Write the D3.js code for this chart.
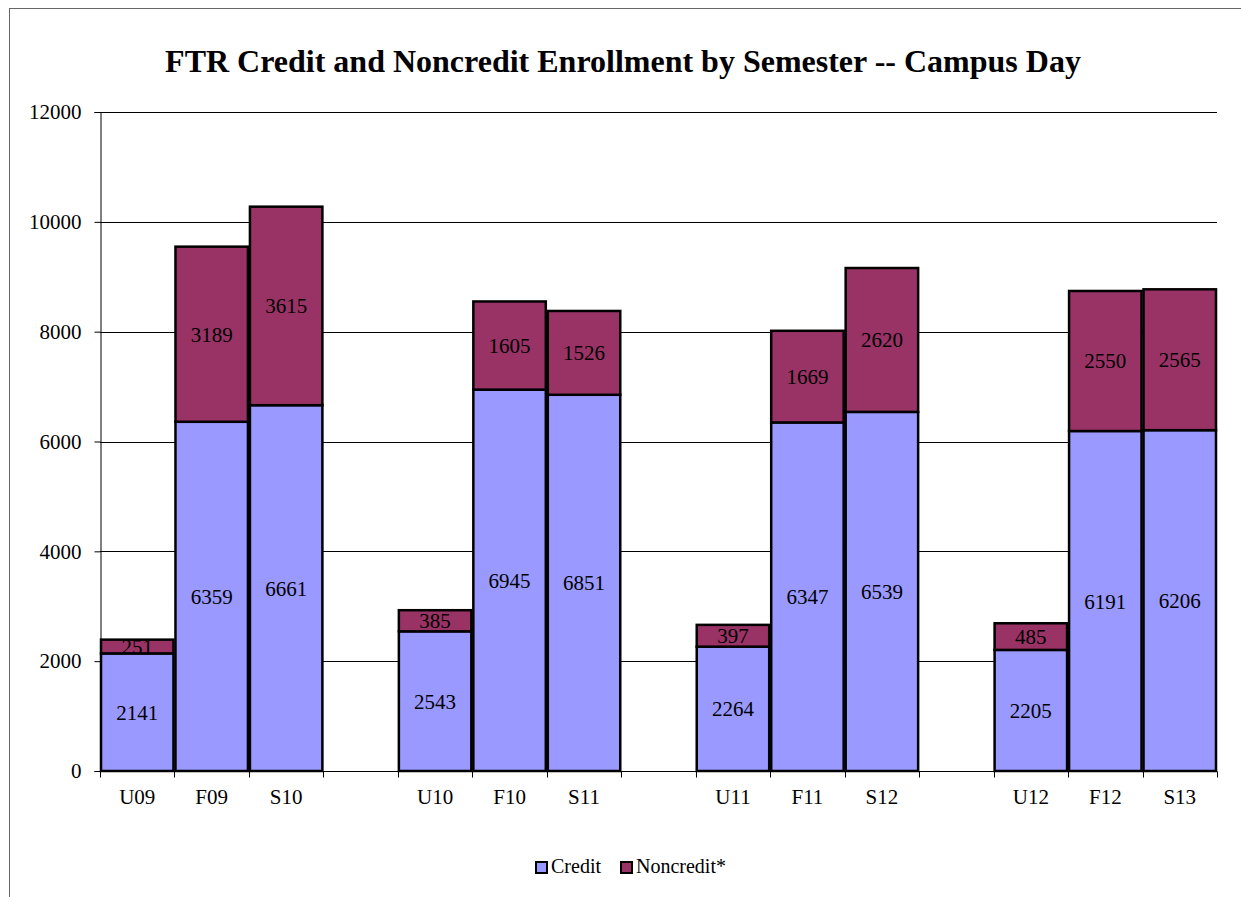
<!DOCTYPE html>
<html>
<head>
<meta charset="utf-8">
<script src="https://cdn.jsdelivr.net/npm/d3@7"></script>
<style>
  html, body { margin: 0; padding: 0; background: #fff; }
  svg text { font-family: "Liberation Serif", "Times New Roman", serif; fill: #000; }
</style>
</head>
<body>
<svg id="chart" width="1241" height="897"></svg>
<script>
// Chart data
var semesters = ["U09", "F09", "S10", "U10", "F10", "S11", "U11", "F11", "S12", "U12", "F12", "S13"];
var credit    = [2141, 6359, 6661, 2543, 6945, 6851, 2264, 6347, 6539, 2205, 6191, 6206];
var noncredit = [251, 3189, 3615, 385, 1605, 1526, 397, 1669, 2620, 485, 2550, 2565];
var yTicks    = [0, 2000, 4000, 6000, 8000, 10000, 12000];
var seriesNames  = ["Credit", "Noncredit*"];
var seriesColors = ["#9999FF", "#993366"];

var svg = d3.select('#chart');

// Outer frame (runs off the right and bottom of the page)
svg.append("rect")
  .attr("x", 9.5).attr("y", 8.5)
  .attr("width", 1260).attr("height", 920)
  .attr("fill", "none")
  .attr("stroke", "#666")
  .attr("stroke-width", 1);

// Title
svg.append("text")
  .attr("x", 623).attr("y", 72)
  .attr("text-anchor", "middle")
  .style("font-size", "32px")
  .style("font-weight", "bold")
  .text("FTR Credit and Noncredit Enrollment by Semester -- Campus Day");

// Slots: three semesters, then an empty gap slot
var slots = [];
semesters.forEach(function(s, i){
  slots.push(s);
  if(i % 3 == 2 && i < semesters.length - 1)
    slots.push("gap" + i);
});

var plotLeft = 100, plotRight = 1217, plotTop = 112, plotBottom = 771;

var x = d3.scaleBand().domain(slots).range([plotLeft, plotRight]).padding(0);
var y = d3.scaleLinear().domain([0, 12000]).range([plotBottom, plotTop]);

// Gridlines
svg.append("g").selectAll("line")
  .data(yTicks.filter(function(d){ return d > 0; }))
  .enter().append("line")
  .attr("x1", plotLeft).attr("x2", plotRight)
  .attr("y1", function(d){ return Math.round(y(d)) + 0.5; })
  .attr("y2", function(d){ return Math.round(y(d)) + 0.5; })
  .attr("stroke", "#000")
  .attr("stroke-width", 1);

// Stacked data
var rows = semesters.map(function(s, i){
  return { sem: s, Credit: credit[i], "Noncredit*": noncredit[i] };
});
var stacked = d3.stack().keys(seriesNames)(rows);

var layers = svg.append("g").selectAll("g")
  .data(stacked)
  .enter().append("g")
  .attr("fill", function(d, i){ return seriesColors[i]; });

layers.selectAll("rect")
  .data(function(d){ return d; })
  .enter().append("rect")
  .attr("x", function(d){ return x(d.data.sem) + 1; })
  .attr("width", x.bandwidth() - 2)
  .attr("y", function(d){ return y(d[1]); })
  .attr("height", function(d){ return y(d[0]) - y(d[1]); })
  .attr("stroke", "#000")
  .attr("stroke-width", 2.5);

// Data labels in the middle of each segment
layers.selectAll("text")
  .data(function(d){ return d; })
  .enter().append("text")
  .attr("x", function(d){ return x(d.data.sem) + x.bandwidth() / 2; })
  .attr("y", function(d){ return y((d[0] + d[1]) / 2) + 7.5; })
  .attr("text-anchor", "middle")
  .style("font-size", "21px")
  .style("fill", "#000")
  .text(function(d){ return d[1] - d[0]; });

// Y axis
var yAxis = d3.axisLeft(y).tickValues(yTicks).tickSize(6).tickPadding(13).tickFormat(d3.format("d"));
var gy = svg.append("g").attr("transform", "translate(" + (plotLeft + 0.5) + ",0)").call(yAxis);
gy.select(".domain").attr("stroke", "#000");
gy.selectAll("text").style("font-size", "21px").style("font-family", "Liberation Serif");

// X axis: ticks at slot boundaries, labels centred on slots
var gx = svg.append("g").attr("transform", "translate(0," + (plotBottom + 0.5) + ")");
gx.append("line").attr("x1", plotLeft).attr("x2", plotRight).attr("stroke", "#000");
gx.selectAll(".tk")
  .data(slots.map(function(s){ return x(s); }).concat([plotRight]))
  .enter().append("line")
  .attr("class", "tk")
  .attr("x1", function(d){ return Math.round(d) + 0.5; })
  .attr("x2", function(d){ return Math.round(d) + 0.5; })
  .attr("y1", 0).attr("y2", 6)
  .attr("stroke", "#000");
gx.selectAll("text")
  .data(semesters)
  .enter().append("text")
  .attr("x", function(d){ return x(d) + x.bandwidth() / 2; })
  .attr("y", 32)
  .attr("text-anchor", "middle")
  .style("font-size", "21px")
  .text(function(d){ return d; });

// Legend
var legend = svg.append("g");
var lx = [536, 621];
seriesNames.forEach(function(name, i){
  legend.append("rect")
    .attr("x", lx[i]).attr("y", 862)
    .attr("width", 11).attr("height", 11)
    .attr("fill", seriesColors[i])
    .attr("stroke", "#000").attr("stroke-width", 2);
  legend.append("text")
    .attr("x", lx[i] + 15).attr("y", 873)
    .style("font-size", "20px")
    .text(name);
});
</script>
</body>
</html>
